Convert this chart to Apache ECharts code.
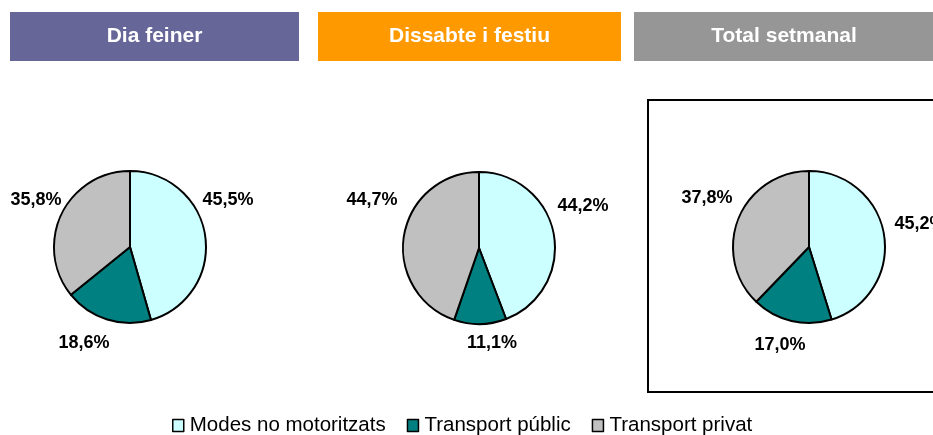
<!DOCTYPE html>
<html>
<head>
<meta charset="utf-8">
<style>
  html, body { margin: 0; padding: 0; background: #ffffff; }
  #chart { width: 933px; height: 435px; }
</style>
<script src="https://cdn.jsdelivr.net/npm/echarts@6/dist/echarts.min.js"></script>
</head>
<body>
<div id="chart"></div>
<script>
// ---- Data ----
const categories = ['Modes no motoritzats', 'Transport públic', 'Transport privat'];
const diaFeiner = [45.5, 18.6, 35.8];
const dissabteFestiu = [44.2, 11.1, 44.7];
const totalSetmanal = [45.2, 17.0, 37.8];
const panelTitles = ['Dia feiner', 'Dissabte i festiu', 'Total setmanal'];

// ---- Styling / layout ----
const sliceColors = ['#CCFFFF', '#008080', '#C0C0C0'];
const headerColors = ['#666699', '#FF9900', '#969696'];
const headerBoxes = [[10, 12, 289, 49], [318, 12, 303, 49], [634, 12, 320, 49]];
const pieCenters = [[130, 247], [479, 248], [809, 247]];
const pieRadius = 76;
// label offsets (label centre relative to pie centre), per pie, per slice
const labelOffsets = [
  [[98, -47], [-46, 96], [-94, -47]],
  [[104, -42], [13, 95], [-107, -48]],
  [[111, -23], [-29, 98], [-102, -49]]
];
const FONT = '"Liberation Sans", Arial, Helvetica, sans-serif';

const seriesValues = [diaFeiner, dissabteFestiu, totalSetmanal];

const chart = echarts.init(document.getElementById('chart'), null, { renderer: 'canvas' });

const series = seriesValues.map((vals, si) => ({
  type: 'pie',
  name: panelTitles[si],
  center: pieCenters[si],
  radius: pieRadius,
  startAngle: 90,
  clockwise: true,
  avoidLabelOverlap: false,
  silent: true,
  emphasis: { disabled: true },
  itemStyle: { borderColor: '#000000', borderWidth: 2 },
  label: {
    show: true,
    position: 'outside',
    formatter: p => p.value.toFixed(1).replace('.', ',') + '%',
    fontFamily: FONT,
    fontWeight: 'bold',
    fontSize: 18,
    color: '#000000'
  },
  labelLine: { show: false },
  labelLayout: params => {
    const off = labelOffsets[si][params.dataIndex];
    return {
      x: pieCenters[si][0] + off[0],
      y: pieCenters[si][1] + off[1],
      align: 'center',
      verticalAlign: 'middle'
    };
  },
  data: categories.map((c, i) => ({
    name: c,
    value: vals[i],
    itemStyle: { color: sliceColors[i] }
  }))
}));

const graphics = [];
headerBoxes.forEach((b, i) => {
  graphics.push({
    type: 'rect',
    shape: { x: b[0], y: b[1], width: b[2], height: b[3] },
    style: { fill: headerColors[i] },
    silent: true
  });
  const cx = i === 2 ? 784 : b[0] + b[2] / 2;
  graphics.push({
    type: 'text',
    x: cx,
    y: b[1] + b[3] / 2,
    style: {
      text: panelTitles[i],
      fill: '#ffffff',
      font: 'bold 21px ' + FONT,
      align: 'center',
      verticalAlign: 'middle'
    },
    silent: true
  });
});
graphics.push({
  type: 'rect',
  shape: { x: 648, y: 100, width: 300, height: 292 },
  style: { fill: 'none', stroke: '#000000', lineWidth: 2 },
  silent: true
});

chart.setOption({
  animation: false,
  backgroundColor: '#ffffff',
  graphic: graphics,
  legend: {
    data: categories,
    left: 172,
    top: 415,
    padding: 0,
    itemWidth: 11,
    itemHeight: 12,
    itemGap: 21,
    icon: 'rect',
    selectedMode: false,
    textStyle: { fontFamily: FONT, fontSize: 20.5, color: '#000000', padding: [0, 0, 0, 1] },
    itemStyle: { borderColor: '#000000', borderWidth: 1.5 }
  },
  series: series
});
</script>
</body>
</html>
